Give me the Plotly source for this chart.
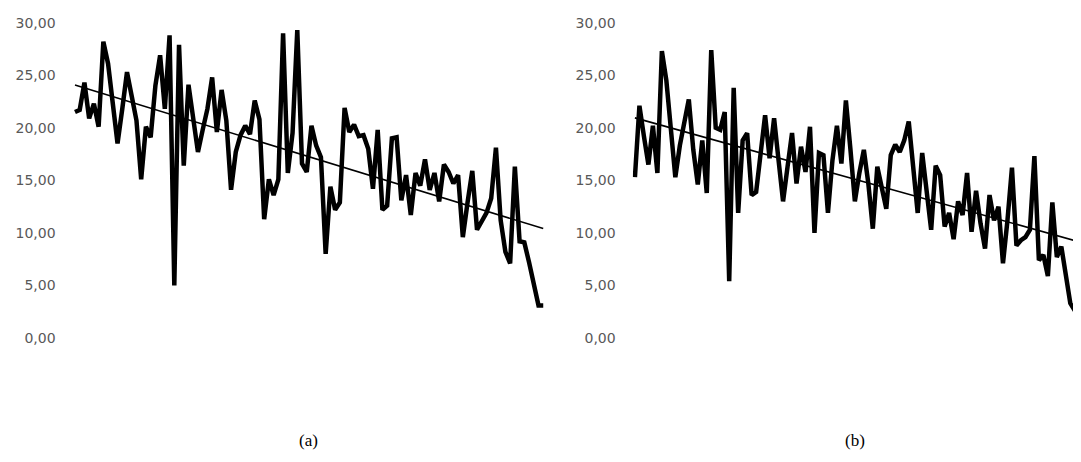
import numpy as np
import plotly.graph_objects as go

# ---- data ----
series_a = [21.5, 21.7, 24.3, 20.9, 22.3, 20.1, 28.2, 26.1, 22.3, 18.5,
            21.8, 25.3, 23.0, 20.7, 15.1, 20.1, 19.1, 24.0, 26.9, 21.8,
            28.8, 5.0, 27.9, 16.4, 24.1, 21.0, 17.7, 19.8, 21.8, 24.8,
            19.6, 23.6, 20.7, 14.1, 17.7, 19.3, 20.2, 19.4, 22.6, 20.8,
            11.3, 15.1, 13.6, 15.1, 29.0, 15.7, 19.5, 29.3, 16.6, 15.8,
            20.2, 18.3, 17.2, 8.0, 14.4, 12.2, 12.9, 21.9, 19.6, 20.3,
            19.2, 19.3, 18.0, 14.2, 19.8, 12.2, 12.6, 19.0, 19.1, 13.1,
            15.5, 11.7, 15.7, 14.5, 17.0, 14.1, 15.7, 13.0, 16.5, 15.8,
            14.7, 15.5, 9.6, 12.9, 15.9, 10.3, 11.2, 11.9, 13.3, 18.1,
            11.2, 8.2, 7.1, 16.3, 9.2, 9.1, 7.2, 5.2, 3.1, 3.1]

series_b = [15.3, 22.1, 19.2, 16.5, 20.2, 15.7, 27.3, 24.5, 19.9, 15.3,
            18.3, 20.5, 22.7, 17.9, 14.6, 18.8, 13.8, 27.4, 20.0, 19.8,
            21.5, 5.4, 23.8, 11.9, 18.8, 19.5, 13.6, 13.9, 17.6, 21.2,
            17.1, 20.9, 16.9, 13.0, 16.3, 19.5, 14.7, 18.2, 15.8, 20.1,
            10.0, 17.6, 17.4, 11.9, 16.9, 20.2, 16.6, 22.6, 18.0, 13.0,
            15.7, 17.9, 14.7, 10.4, 16.3, 14.4, 12.3, 17.4, 18.4, 17.7,
            18.8, 20.6, 16.0, 11.9, 17.6, 14.1, 10.3, 16.4, 15.5, 10.6,
            11.9, 9.4, 13.0, 11.7, 15.7, 10.1, 14.0, 10.9, 8.5, 13.6,
            11.2, 12.5, 7.1, 11.2, 16.2, 8.8, 9.3, 9.6, 10.3, 17.3,
            7.4, 7.9, 5.9, 12.9, 7.7, 8.7, 6.1, 3.3, 2.6]

y_ticks = [0, 5, 10, 15, 20, 25, 30]
captions = ["(a)", "(b)"]

WIN_W, WIN_H = 1081, 462
OFF = 8  # default page body margin
W, H = WIN_W - OFF, WIN_H - 2 * OFF
VISIBLE_RIGHT = 1073  # last visible pixel column of the page


def px_x(p):
    return (p - OFF) / W


def px_y(p):
    return (OFF + H - p) / H


fig = go.Figure()

panels = [
    (series_a, "x", "y", [72.6, 545.6], [-0.5, 99.5]),
    (series_b, "x2", "y2", [632.7, VISIBLE_RIGHT], [-0.5, 97.6]),
]

for vals, xa, ya, dom, rng in panels:
    idx = np.arange(len(vals))
    fig.add_trace(go.Scatter(x=idx, y=vals, mode="lines", xaxis=xa, yaxis=ya,
                             line=dict(color="black", width=4.5),
                             showlegend=False, hoverinfo="skip"))
    slope, icpt = np.polyfit(idx, vals, 1)
    tx = np.array([0, len(vals) - 1])
    fig.add_trace(go.Scatter(x=tx, y=slope * tx + icpt, mode="lines",
                             xaxis=xa, yaxis=ya,
                             line=dict(color="black", width=1.6),
                             showlegend=False, hoverinfo="skip"))

ydom = [px_y(338), px_y(22.7)]
tickfont = dict(family="DejaVu Sans", size=14, color="#595959")
yax = dict(range=[0, 30], tickvals=y_ticks, tickformat=".2f", showgrid=False,
           zeroline=False, showline=False, ticks="", tickfont=tickfont,
           ticklabelstandoff=16, domain=ydom, fixedrange=True, automargin=False)
xax_common = dict(showgrid=False, zeroline=False, showline=False,
                  showticklabels=False, ticks="", automargin=False)

fig.update_layout(
    template="none",
    width=W, height=H, autosize=False,
    margin=dict(l=0, r=0, t=0, b=0, pad=0, autoexpand=False),
    paper_bgcolor="white", plot_bgcolor="white",
    separators=", ",
    xaxis=dict(domain=[px_x(panels[0][3][0]), px_x(panels[0][3][1])],
               range=panels[0][4], **xax_common),
    xaxis2=dict(domain=[px_x(panels[1][3][0]), px_x(panels[1][3][1])],
                range=panels[1][4], **xax_common),
    yaxis=dict(anchor="x", **yax),
    yaxis2=dict(anchor="x2", **yax),
)

cap_x = [308, 855]
for txt, cx in zip(captions, cap_x):
    fig.add_annotation(text=txt, x=px_x(cx), y=px_y(440), xref="paper", yref="paper",
                       showarrow=False, xanchor="center", yanchor="middle",
                       font=dict(family="Liberation Serif", size=17, color="black"))

fig.write_html("out.html")
